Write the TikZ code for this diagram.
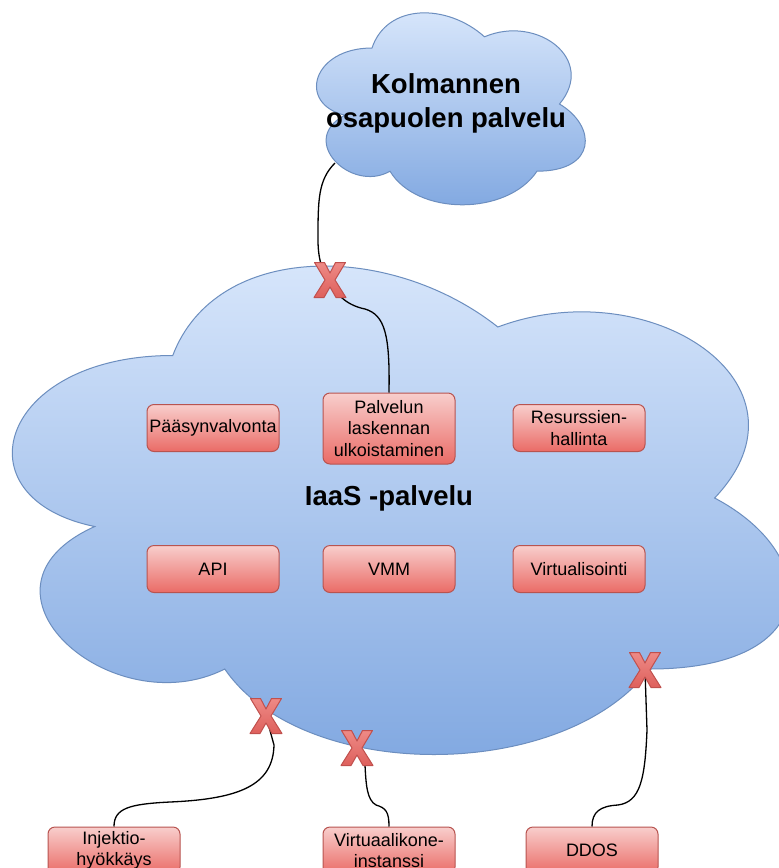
\documentclass[tikz,border=0pt]{standalone}
\usepackage{fontspec}
\setmainfont{Liberation Sans}
\definecolor{boxline}{HTML}{B85450}
\definecolor{boxtop}{HTML}{F8CECC}
\definecolor{boxbot}{HTML}{EA6B66}
\definecolor{cloudline}{HTML}{6C8EBF}
\definecolor{cloudtop}{HTML}{DAE8FC}
\definecolor{cloudbot}{HTML}{7EA6E0}
\definecolor{xline}{HTML}{C0504D}
\definecolor{xtop}{HTML}{EE8A86}
\definecolor{xbot}{HTML}{DE605C}
\begin{document}
\begin{tikzpicture}[x=1pt,y=-1pt,
  box/.style={draw=boxline, line width=1pt, rounded corners=7pt, top color=boxtop, bottom color=boxbot,
    minimum width=132pt, minimum height=47pt, align=center, inner sep=0pt, text=black,
    font=\fontsize{18}{21.6}\selectfont},
  cloudshape/.style={draw=cloudline, line width=1pt, top color=cloudtop, bottom color=cloudbot},
  conn/.style={draw=black, line width=1.3pt},
  title/.style={font=\fontsize{27.5}{34}\selectfont\bfseries, align=center, text=black},
  xmark/.pic={\path[draw=xline, line width=1pt, top color=xtop, bottom color=xbot, line join=round]
    (-15.5,-17.5) -- (-5.5,-17.5) -- (0,-7) -- (5.5,-17.5) -- (15.5,-17.5) -- (5,0)
    -- (16,17.5) -- (6,17.5) -- (0,7) -- (-6,17.5) -- (-16,17.5) -- (-5,0) -- cycle;}
]
\useasboundingbox (0,0) rectangle (779,868);
\clip (0,0) rectangle (779,868);
\fill[white] (0,0) rectangle (779,868);

% clouds
\begin{scope}[shift={(-44,213)}, xscale=867, yscale=570]
\path[cloudshape] (0.25,0.25) .. controls (0.05,0.25) and (0,0.5) .. (0.16,0.55)
  .. controls (0,0.66) and (0.18,0.9) .. (0.31,0.8)
  .. controls (0.4,1) and (0.7,1) .. (0.8,0.8)
  .. controls (1,0.8) and (1,0.6) .. (0.875,0.5)
  .. controls (1,0.3) and (0.8,0.1) .. (0.625,0.2)
  .. controls (0.5,0.05) and (0.3,0.05) .. (0.25,0.25) -- cycle;
\end{scope}
\begin{scope}[shift={(297,-8)}, xscale=300, yscale=224]
\path[cloudshape] (0.25,0.25) .. controls (0.05,0.25) and (0,0.5) .. (0.16,0.55)
  .. controls (0,0.66) and (0.18,0.9) .. (0.31,0.8)
  .. controls (0.4,1) and (0.7,1) .. (0.8,0.8)
  .. controls (1,0.8) and (1,0.6) .. (0.875,0.5)
  .. controls (1,0.3) and (0.8,0.1) .. (0.625,0.2)
  .. controls (0.5,0.05) and (0.3,0.05) .. (0.25,0.25) -- cycle;
\end{scope}

\node[title] (third) at (446,103) {Kolmannen\\osapuolen palvelu};
\node[title] (iaas) at (389,498) {IaaS -palvelu};

% boxes
\node[box] (paas) at (213,428) {Pääsynvalvonta};
\node[box, minimum height=71pt] (palv) at (389,428.5) {Palvelun\\laskennan\\ulkoistaminen};
\node[box] (res) at (579,428) {Resurssien-\\hallinta};
\node[box] (api) at (213,569) {API};
\node[box] (vmm) at (389,569) {VMM};
\node[box] (virt) at (579,569) {Virtualisointi};
\node[box] (inj) at (114,850.5) {Injektio-\\hyökkäys};
\node[box] (vmi) at (389,850.5) {Virtuaalikone-\\instanssi};
\node[box] (ddos) at (592,850.5) {DDOS};

% connection points
\coordinate (tc) at (335,163);
\coordinate (x1) at (330,280);
\coordinate (x2) at (266,716);
\coordinate (x3) at (357,748);
\coordinate (x4) at (645,670);

% connectors
\draw[conn] (tc) .. controls (318,180) and (318,200) .. (318,240)
  .. controls (318,262) and (324,275) .. (x1)
  .. controls (334,292) and (345,305) .. (365,309)
  .. controls (385,315) and (390,335) .. (palv.north);
\draw[conn] (inj.north) .. controls (114,808) and (130,804) .. (170,802)
  .. controls (240,799) and (273,785) .. (274,745) -- (x2);
\draw[conn] (vmi.north) .. controls (389,812) and (386,808) .. (376,805)
  .. controls (367,800) and (366,785) .. (365,765) -- (x3);
\draw[conn] (ddos.north) .. controls (592,812) and (600,806) .. (618,805)
  .. controls (640,802) and (645,780) .. (647,730) -- (x4);

% X marks
\pic at (x1) {xmark};
\pic at (x2) {xmark};
\pic at (x3) {xmark};
\pic at (x4) {xmark};
\end{tikzpicture}
\end{document}
